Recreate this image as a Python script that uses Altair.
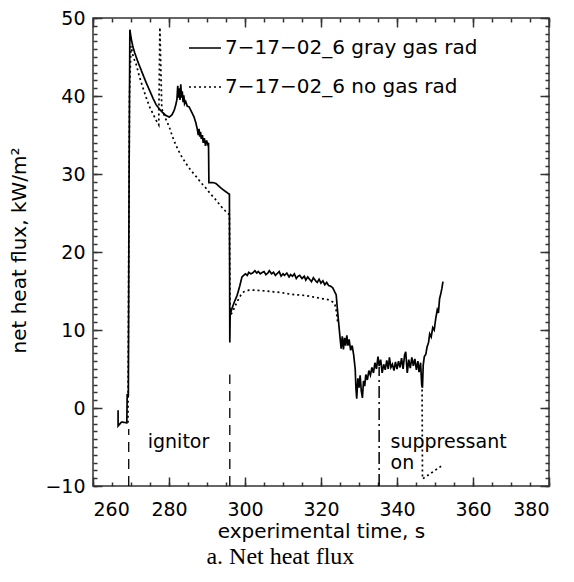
import altair as alt
import pandas as pd

SERIES = ["7\u221217\u221202_6 gray gas rad", "7\u221217\u221202_6 no gas rad"]

# series 1: gray gas radiation (solid)
gray_t = [266.6, 266.6, 267.5, 268.9, 269.0, 269.3, 269.5, 269.7,
          270.0, 270.5, 271.0, 271.8, 273.1, 274.0, 274.9, 275.8, 276.6, 277.5, 278.3, 279.2,
          280.1, 280.8, 281.4, 281.8, 282.1, 282.3, 282.5, 282.7, 282.9, 283.1, 283.3, 283.5,
          283.7, 283.9, 284.1, 284.4, 284.8, 285.3, 285.9, 286.6, 287.1, 287.5, 287.7, 287.9,
          288.1, 288.3, 288.5, 288.8, 289.0, 289.3, 289.6, 289.9, 290.2, 290.4, 290.5, 291.5,
          292.3, 293.2, 294.2, 295.6, 295.9, 296.0, 296.1, 296.6, 297.2, 297.9, 298.6, 299.2,
          300.1, 300.6, 301.0, 301.5, 302.0, 302.6, 303.1, 303.5, 304.0, 304.6, 305.0, 305.5,
          306.0, 306.4, 307.0, 307.5, 308.0, 308.6, 309.0, 309.5, 310.0, 310.4, 311.0, 311.6,
          312.0, 312.5, 313.0, 313.5, 314.0, 314.4, 315.0, 315.6, 316.0, 316.5, 317.0, 317.5,
          318.0, 318.6, 319.0, 319.5, 320.0, 320.5, 321.0, 321.5, 322.0, 322.6, 323.1,
          323.6, 324.0, 324.4, 324.9, 325.3, 325.6, 325.9, 326.2, 326.5, 326.8, 327.1, 327.4,
          327.8, 328.2, 328.6, 329.0, 329.2, 329.4, 329.7, 330.0, 330.3, 330.6, 330.9, 331.2,
          331.5, 331.8, 332.2, 332.6, 333.0, 333.4, 333.8, 334.2, 334.6, 335.0, 335.3, 335.7,
          336.1, 336.5, 336.9, 337.3, 337.7, 338.0, 338.4, 338.8, 339.2, 339.6, 340.0, 340.4,
          340.8, 341.2, 341.6, 342.0, 342.3, 342.7, 343.1, 343.5, 343.9, 344.3, 344.7, 345.1,
          345.5, 345.8, 346.2, 346.5, 346.7, 346.9, 347.2, 347.6, 347.9, 348.3, 348.6, 349.0,
          349.4, 349.8, 350.2, 350.6, 350.9, 351.2, 351.5, 351.8, 352.1]
gray_v = [-0.3, -2.3, -1.8, -1.9, 1.8, 1.5, 30.0, 48.5,
          47.5, 46.3, 45.5, 44.4, 42.8, 41.7, 40.7, 39.7, 38.9, 38.3, 37.9, 37.5,
          37.3, 37.6, 38.2, 38.9, 39.6, 41.3, 39.8, 41.0, 39.5, 41.5, 39.8, 40.6,
          39.2, 40.1, 39.0, 39.3, 38.7, 38.6, 38.0, 37.3, 36.5, 35.6, 35.0, 35.8,
          34.8, 35.4, 34.5, 35.0, 34.0, 34.6, 33.6, 34.3, 33.8, 34.0, 28.9, 28.9,
          28.8, 28.4, 28.0, 27.5, 27.4, 8.4, 12.0, 12.8, 13.6, 14.4, 15.6, 16.8,
          17.2, 17.0, 17.4, 17.2, 17.3, 17.6, 17.3, 17.5, 17.2, 17.4, 17.5, 17.1,
          17.3, 17.6, 17.2, 17.4, 17.0, 17.3, 17.5, 16.9, 17.2, 17.0, 17.3, 16.8,
          17.1, 16.9, 17.2, 16.6, 16.9, 17.0, 16.6, 16.9, 16.4, 16.8, 16.5, 16.2,
          16.7, 16.3, 16.1, 16.5, 16.0, 16.3, 15.8, 16.1, 15.7, 15.6, 15.4,
          14.9, 14.5, 12.2, 9.6, 7.6, 9.2, 7.5, 9.0, 8.0, 9.3, 8.0, 8.8,
          7.4, 8.0, 6.8, 5.0, 2.5, 1.2, 3.8, 2.6, 4.2, 2.2, 1.3, 3.5,
          2.8, 4.3, 3.6, 4.8, 4.2, 5.2, 4.5, 5.8, 5.0, 6.6, 5.4, 6.2,
          4.5, 5.6, 4.9, 6.1, 5.0, 6.5, 5.2, 5.6, 4.8, 5.9, 5.0, 6.0,
          5.2, 6.4, 5.0, 6.8, 7.2, 4.5, 6.2, 5.1, 6.5, 5.4, 6.3, 4.9,
          6.0, 4.6, 5.8, 3.0, 2.6, 5.5, 6.6, 6.9, 7.8, 8.4, 9.5, 9.1,
          10.3, 10.0, 11.5, 12.6, 12.2, 14.0, 14.6, 15.3, 16.2]

# series 2: no gas radiation (dotted), two visible pieces
nogas_t_a = [269.2, 269.6, 270.0, 270.6, 271.4, 272.2, 273.1, 274.0, 274.9, 275.8, 276.6,
             277.3, 277.6, 278.1, 278.6, 279.2, 280.1, 280.9, 281.8, 283.0, 284.4, 285.7,
             287.1, 288.4, 289.7, 291.0, 292.3, 293.8, 295.3, 295.9, 296.1, 296.8, 297.9,
             298.8, 299.7, 301.0, 303.1, 305.3, 307.5, 309.6, 311.8, 314.0, 316.2, 318.4,
             320.5, 321.8, 323.1, 323.6, 324.0, 324.4]
nogas_v_a = [-1.9, 40.0, 46.4, 45.0, 44.0, 42.5, 41.1, 39.8, 38.6, 37.7, 36.9,
             36.3, 48.8, 38.4, 37.7, 37.0, 36.0, 34.8, 33.7, 32.5, 31.4, 30.5,
             29.7, 28.9, 28.2, 27.4, 26.7, 25.8, 25.0, 24.8, 11.8, 12.4, 13.6,
             14.4, 14.9, 15.1, 15.1, 15.0, 14.9, 14.8, 14.6, 14.5, 14.4, 14.2,
             14.0, 13.9, 13.6, 13.4, 12.5, 11.0]
nogas_t_b = [346.6, 346.7, 351.8]
nogas_v_b = [3.0, -9.1, -7.4]

assert len(gray_t) == len(gray_v)
assert len(nogas_t_a) == len(nogas_v_a)

X_DOMAIN = [260, 380]
Y_DOMAIN = [-10, 50]
X_MAJOR = list(range(260, 381, 20))
X_MINOR = list(range(260, 381, 5))
Y_MAJOR = list(range(-10, 51, 10))
Y_MINOR = list(range(-10, 51, 1))

# event markers
marker_t = [269.4, 296.0, 335.3]
marker_top = [-2.7, 4.3, 5.3]
marker_kind = ["ignitor", "ignitor", "suppressant"]

note_text = ["ignitor", "suppressant", "on"]
note_t = [274.4, 338.3, 338.3]
note_v = [-4.3, -4.3, -7.0]

# ---------------- tables ----------------
rows = []
k = 0
for t, v in zip(gray_t, gray_v):
    rows.append(dict(t=t, v=v, series=SERIES[0], seg="g", i=k)); k += 1
for t, v in zip(nogas_t_a, nogas_v_a):
    rows.append(dict(t=t, v=v, series=SERIES[1], seg="na", i=k)); k += 1
for t, v in zip(nogas_t_b, nogas_v_b):
    rows.append(dict(t=t, v=v, series=SERIES[1], seg="nb", i=k)); k += 1
lines_df = pd.DataFrame(rows)

rules_df = pd.DataFrame(dict(t=marker_t, top=marker_top, kind=marker_kind,
                             bottom=[Y_DOMAIN[0]] * len(marker_t)))
notes_df = pd.DataFrame(dict(t=note_t, v=note_v, label=note_text))
dom_df = pd.DataFrame(dict(t=X_DOMAIN, v=Y_DOMAIN))

FONT = "DejaVu Sans"
AX = "#333333"
xs = alt.Scale(domain=X_DOMAIN, nice=False, zero=False)
ys = alt.Scale(domain=Y_DOMAIN, nice=False, zero=False)

lines = alt.Chart(lines_df).mark_line(color="black", strokeWidth=1.7).encode(
    x=alt.X("t:Q", scale=xs, axis=alt.Axis(
        orient="bottom", values=X_MAJOR, ticks=False, domain=False, grid=False,
        labelPadding=14, labelFontSize=19, title="experimental time, s",
        titleX=228, titleY=45, titleBaseline="middle", titleAlign="center")),
    y=alt.Y("v:Q", scale=ys, axis=alt.Axis(
        orient="left", values=Y_MAJOR, ticks=False, domain=False, grid=False,
        labelPadding=8, labelFontSize=19, title="net heat flux, kW/m\u00b2",
        titleX=-74, titleY=232, titleBaseline="middle", titleAlign="center", titleAngle=270)),
    strokeDash=alt.StrokeDash("series:N",
        scale=alt.Scale(domain=SERIES, range=[[1, 0], [2, 3]]),
        legend=alt.Legend(orient="none", legendX=95, legendY=13, title=None,
                          symbolType="stroke", symbolSize=1024, symbolStrokeWidth=1.5,
                          symbolStrokeColor="black", labelFont=FONT, labelFontSize=20,
                          labelColor="black", labelOffset=3, rowPadding=12, padding=0,
                          labelLimit=500)),
    detail="seg:N",
    order="i:Q",
)

rules_dashed = alt.Chart(rules_df).transform_filter(alt.datum.kind == "ignitor").mark_rule(
    color="black", strokeWidth=1.3, strokeDash=[10, 7]).encode(
    x=alt.X("t:Q", scale=xs, axis=None),
    y=alt.Y("bottom:Q", scale=ys, axis=None), y2="top:Q")
rules_dashdot = alt.Chart(rules_df).transform_filter(alt.datum.kind == "suppressant").mark_rule(
    color="black", strokeWidth=1.5, strokeDash=[12, 4, 2, 4]).encode(
    x=alt.X("t:Q", scale=xs, axis=None),
    y=alt.Y("bottom:Q", scale=ys, axis=None), y2="top:Q")

notes = alt.Chart(notes_df).mark_text(align="left", baseline="middle", font=FONT,
                                      fontSize=19, color="black").encode(
    x=alt.X("t:Q", scale=xs, axis=None),
    y=alt.Y("v:Q", scale=ys, axis=None), text="label:N")


def tick_layer(xvals, yvals, size, xorient, yorient):
    common = dict(labels=False, domain=False, grid=False, title=None, ticks=True,
                  tickSize=size, offset=-size, tickColor=AX, tickWidth=1.5)
    return alt.Chart(dom_df).mark_point(opacity=0).encode(
        x=alt.X("t:Q", scale=xs, axis=alt.Axis(orient=xorient, values=xvals, **common)),
        y=alt.Y("v:Q", scale=ys, axis=alt.Axis(orient=yorient, values=yvals, **common)),
    )


ticks = [
    tick_layer(X_MAJOR, Y_MAJOR, 9, "bottom", "left"),
    tick_layer(X_MINOR, Y_MINOR, 4, "bottom", "left"),
    tick_layer(X_MAJOR, Y_MAJOR, 9, "top", "right"),
    tick_layer(X_MINOR, Y_MINOR, 4, "top", "right"),
]

chart = alt.layer(lines, rules_dashed, rules_dashdot, notes, *ticks).resolve_axis(
    x="independent", y="independent"
).properties(
    width=456, height=468,
    autosize=alt.AutoSizeParams(type="none"),
    padding={"left": 85, "top": 10, "right": 17, "bottom": 88},
    title=alt.Title("a. Net heat flux", orient="bottom", font="Liberation Serif",
                    fontSize=24, fontWeight="normal", anchor="middle", frame="bounds",
                    offset=4, color="black"),
).configure_view(stroke=AX, strokeWidth=1.5).configure_axis(
    labelFont=FONT, titleFont=FONT, labelColor="black", titleColor="black",
    titleFontSize=20, titleFontWeight="normal"
)

chart.save("out.html", embed_options={"renderer": "svg", "actions": False})
